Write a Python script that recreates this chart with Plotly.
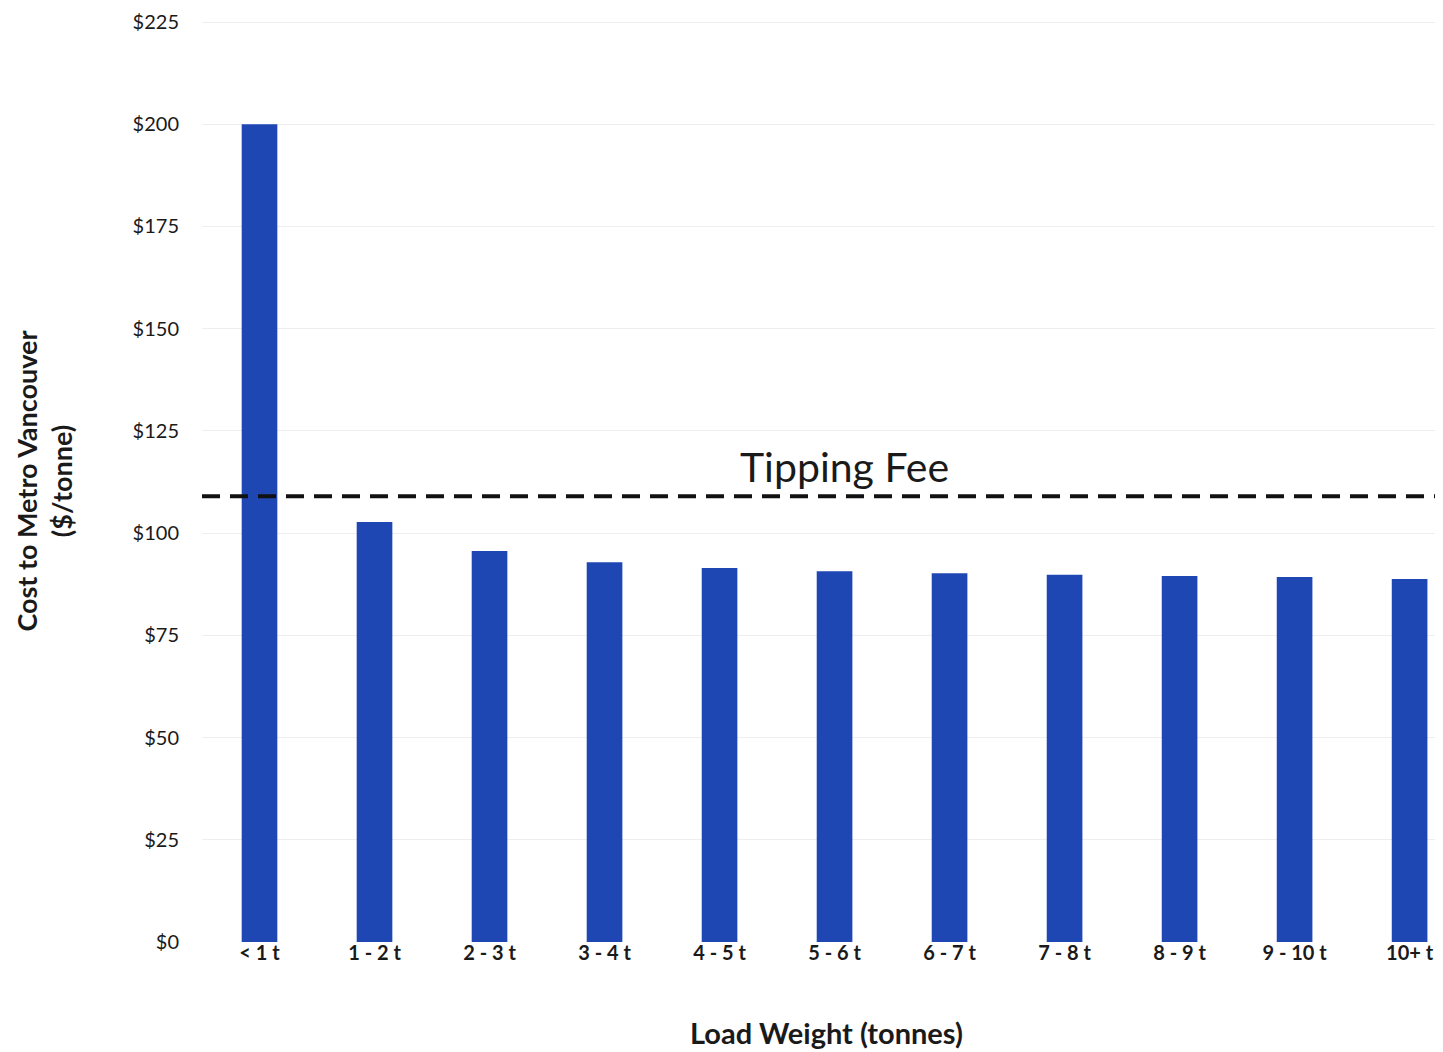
import plotly.graph_objects as go

categories = ["< 1 t", "1 - 2 t", "2 - 3 t", "3 - 4 t", "4 - 5 t", "5 - 6 t",
              "6 - 7 t", "7 - 8 t", "8 - 9 t", "9 - 10 t", "10+ t"]
cost_per_tonne = [200, 102.7, 95.6, 92.9, 91.5, 90.7, 90.2, 89.8, 89.5, 89.3, 88.8]
tipping_fee = 109
y_ticks = [0, 25, 50, 75, 100, 125, 150, 175, 200, 225]
y_tick_text = ["$" + str(v) for v in y_ticks]

FONT = "Lato, 'Open Sans', sans-serif"

fig = go.Figure()
fig.add_trace(go.Bar(
    x=categories, y=cost_per_tonne,
    marker=dict(color="#1E47B3", line=dict(width=0)),
    width=0.31,
))

fig.add_shape(type="line", xref="paper", yref="y",
              x0=0, x1=1, y0=tipping_fee, y1=tipping_fee,
              line=dict(color="#111111", width=4, dash="18px,10px"))

fig.add_annotation(x=5.09, y=tipping_fee, xref="x", yref="y",
                   text="Tipping Fee", showarrow=False,
                   yanchor="bottom", yshift=3,
                   font=dict(family=FONT, size=41, color="#1a1a1a"))

fig.update_layout(
    width=1443, height=1052,
    margin=dict(l=194, r=0, t=12, b=118),
    paper_bgcolor="white", plot_bgcolor="white",
    showlegend=False,
    font=dict(family=FONT, color="#1a1a1a"),
    xaxis=dict(
        type="category",
        range=[-0.5, 10.36],
        showgrid=False, showline=False, zeroline=False,
        ticks="", tickfont=dict(family=FONT, size=20, color="#1a1a1a", weight="bold"),
        ticklabelstandoff=-3,
        title=dict(text="<b>Load Weight (tonnes)</b>", font=dict(family=FONT, size=29, color="#1a1a1a"),
                   standoff=60),
    ),
    yaxis=dict(
        range=[0, 225.5],
        tickvals=y_ticks, ticktext=y_tick_text,
        showgrid=True, gridcolor="#eeeeee", gridwidth=1,
        zeroline=False, showline=False, ticks="",
        ticklabelstandoff=22,
        tickfont=dict(family=FONT, size=20, color="#1a1a1a"),
        title=dict(text="<b>Cost to Metro Vancouver<br>($/tonne)</b>",
                   font=dict(family=FONT, size=27, color="#1a1a1a"), standoff=52),
    ),
)

fig.write_html("out.html")
